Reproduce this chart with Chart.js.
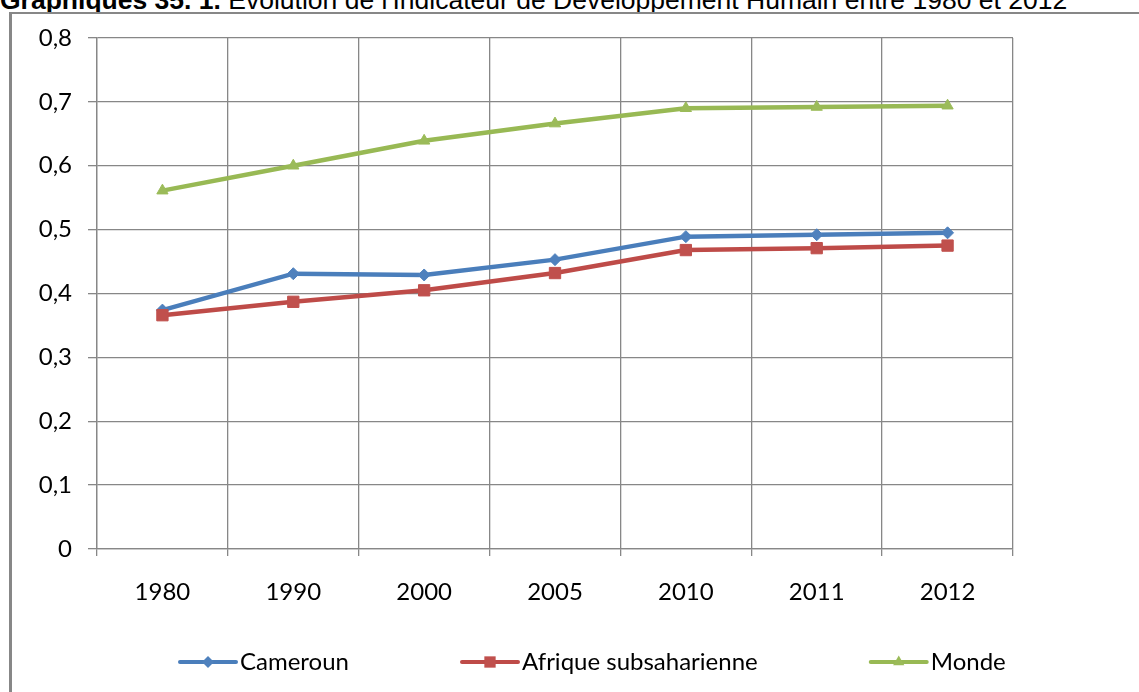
<!DOCTYPE html>
<html>
<head>
<meta charset="utf-8">
<script src="https://cdn.jsdelivr.net/npm/chart.js@4"></script>
<style>
  html, body { margin: 0; padding: 0; background: #fff; width: 1139px; height: 692px; overflow: hidden; }
  #title { position: absolute; left: 0; top: -13px; font-family: "Liberation Sans", Arial, sans-serif; font-size: 26.5px; line-height: 26.5px; white-space: nowrap; color: #000; }
  #frame { position: absolute; left: 9px; top: 12px; width: 1300px; height: 800px; border-left: 3px solid #878787; border-top: 2px solid #878787; }
  #wrap { position: absolute; left: 0; top: 0; width: 1139px; height: 692px; }
</style>
</head>
<body>
<div id="title"><b>Graphiques 35. 1.</b> Evolution de l'Indicateur de Developpement Humain entre 1980 et 2012</div>
<div id="frame"></div>
<div id="wrap"><canvas id="chart" width="1139" height="692"></canvas></div>
<script>
// données
const annees = ['1980', '1990', '2000', '2005', '2010', '2011', '2012'];
const cameroun = [0.374, 0.431, 0.429, 0.453, 0.489, 0.492, 0.495];
const afrique = [0.366, 0.387, 0.405, 0.432, 0.468, 0.471, 0.475];
const monde = [0.561, 0.600, 0.639, 0.666, 0.690, 0.692, 0.694];
const yTicks = [0, 0.1, 0.2, 0.3, 0.4, 0.5, 0.6, 0.7, 0.8];

const FONT = 'Lato, "Open Sans", sans-serif';
const FSIZE = 24;
const GRID = '#878787';

function drawMarker(ctx, style, r, x, y) {
  ctx.beginPath();
  if (style === 'rectRot') {
    ctx.moveTo(x, y - r); ctx.lineTo(x + r, y); ctx.lineTo(x, y + r); ctx.lineTo(x - r, y);
  } else if (style === 'rect') {
    const s = r * Math.SQRT1_2;
    ctx.rect(x - s, y - s, 2 * s, 2 * s);
  } else {
    const h = r * 1.5;
    ctx.moveTo(x, y - r); ctx.lineTo(x + h * 0.577, y + r * 0.5); ctx.lineTo(x - h * 0.577, y + r * 0.5);
  }
  ctx.closePath();
  ctx.fill();
}

// légende façon Excel : trait + marqueur, puis texte
const excelLegend = {
  id: 'excelLegend',
  afterDraw(chart) {
    const ctx = chart.ctx;
    ctx.save();
    ctx.font = FSIZE + 'px ' + FONT;
    ctx.textBaseline = 'middle';
    const y = 662;
    let x = 180;
    chart.data.datasets.forEach(ds => {
      ctx.strokeStyle = ds.borderColor;
      ctx.lineWidth = 4;
      ctx.lineCap = 'round';
      ctx.beginPath(); ctx.moveTo(x, y); ctx.lineTo(x + 56, y); ctx.stroke();
      ctx.fillStyle = ds.pointBackgroundColor;
      drawMarker(ctx, ds.pointStyle, ds.pointRadius, x + 28, y);
      ctx.fillStyle = '#000';
      ctx.fillText(ds.label, x + 60, y);
      x += 60 + ctx.measureText(ds.label).width + 113;
    });
    ctx.restore();
  }
};

const ctx = document.getElementById('chart').getContext('2d');
new Chart(ctx, {
  type: 'line',
  data: {
    labels: annees,
    datasets: [
      { label: 'Cameroun', data: cameroun, borderColor: '#4A7EBB', backgroundColor: '#4F81BD',
        pointBackgroundColor: '#4F81BD', pointBorderColor: '#4F81BD', pointStyle: 'rectRot', pointRadius: 6, order: 2 },
      { label: 'Afrique subsaharienne', data: afrique, borderColor: '#BE4B48', backgroundColor: '#C0504D',
        pointBackgroundColor: '#C0504D', pointBorderColor: '#C0504D', pointStyle: 'rect', pointRadius: 8, order: 1 },
      { label: 'Monde', data: monde, borderColor: '#98B954', backgroundColor: '#9BBB59',
        pointBackgroundColor: '#9BBB59', pointBorderColor: '#9BBB59', pointStyle: 'triangle', pointRadius: 6.5, order: 0 }
    ].map(ds => Object.assign(ds, { borderWidth: 4.5, tension: 0, pointBorderWidth: 1, fill: false }))
  },
  options: {
    responsive: false,
    animation: false,
    events: [],
    layout: { padding: { left: 0, top: 38, right: 126, bottom: 83 } },
    plugins: { legend: { display: false }, tooltip: { enabled: false }, title: { display: false } },
    scales: {
      x: {
        offset: true,
        grid: { offset: true, color: GRID, lineWidth: 1.3, tickLength: 7 },
        border: { color: GRID, width: 1.3 },
        ticks: { color: '#000', font: { family: FONT, size: FSIZE }, padding: 22, maxRotation: 0 },
        afterFit: s => { s.height = 60; }
      },
      y: {
        min: 0, max: 0.8,
        afterBuildTicks: s => { s.ticks = yTicks.map(v => ({ value: v })); },
        grid: { color: GRID, lineWidth: 1.3, tickLength: 9 },
        border: { color: GRID, width: 1.3 },
        ticks: { color: '#000', font: { family: FONT, size: FSIZE }, padding: 16,
          callback: v => v === 0 ? '0' : v.toFixed(1).replace('.', ',') },
        afterFit: s => { s.width = 97; }
      }
    }
  },
  plugins: [excelLegend]
});
</script>
</body>
</html>
